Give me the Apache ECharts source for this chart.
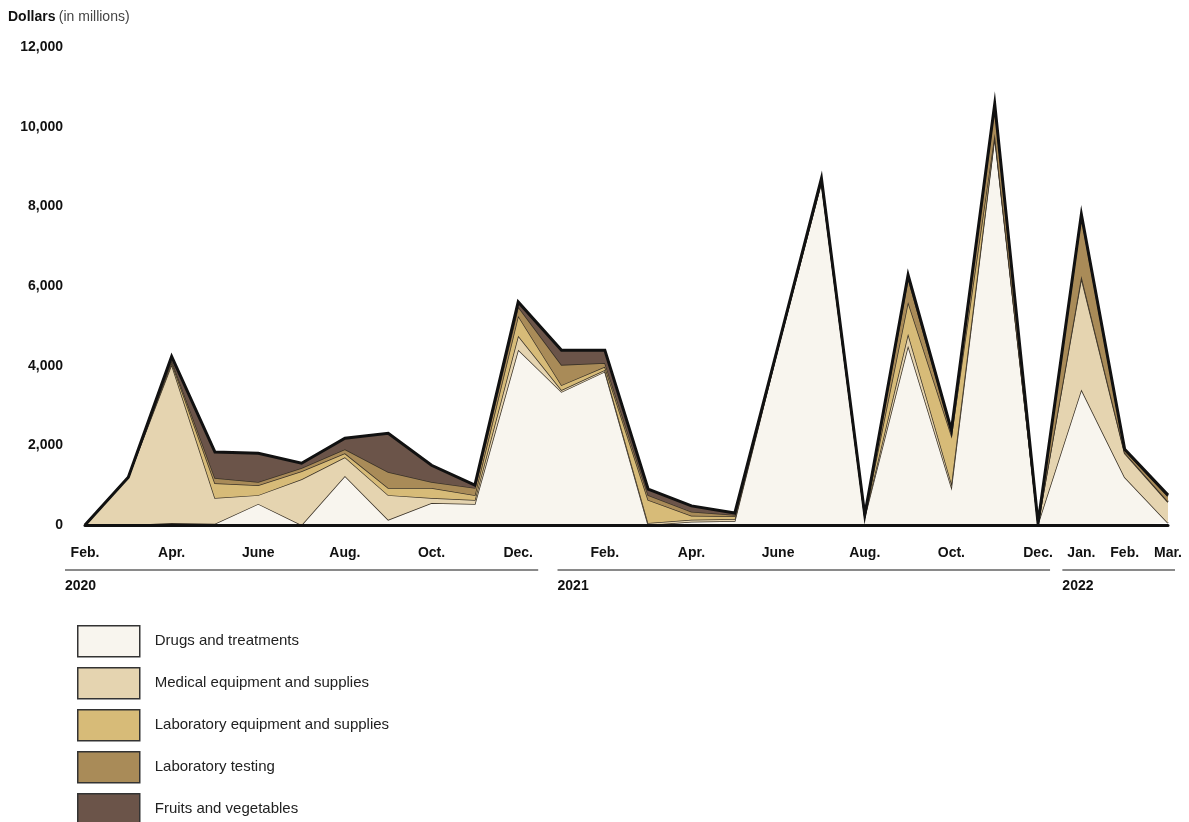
<!DOCTYPE html>
<html>
<head>
<meta charset="utf-8">
<title>Dollars (in millions)</title>
<script src="https://cdn.jsdelivr.net/npm/echarts@6/dist/echarts.min.js"></script>
<style>
    html, body { margin: 0; padding: 0; background: #ffffff; }
    #chart { width: 1189px; height: 822px; }
</style>
</head>
<body>
<div id="chart"></div>
<script>
// 月份（2020年2月 - 2022年3月）
const categories = [
    '2020-02', '2020-03', '2020-04', '2020-05', '2020-06', '2020-07', '2020-08', '2020-09',
    '2020-10', '2020-11', '2020-12', '2021-01', '2021-02', '2021-03', '2021-04', '2021-05',
    '2021-06', '2021-07', '2021-08', '2021-09', '2021-10', '2021-11', '2021-12', '2022-01',
    '2022-02', '2022-03'
];
const monthLabels = [
    'Feb.', 'Mar.', 'Apr.', 'May', 'June', 'July', 'Aug.', 'Sept.', 'Oct.', 'Nov.', 'Dec.', 'Jan.',
    'Feb.', 'Mar.', 'Apr.', 'May', 'June', 'July', 'Aug.', 'Sept.', 'Oct.', 'Nov.', 'Dec.', 'Jan.',
    'Feb.', 'Mar.'
];

// 年份分组
const years = ['2020', '2021', '2022'];
const yearFirstMonth = [0, 11, 23];
const yearLastMonth = [10, 22, 25];

// 各类别（百万美元）
const seriesNames = [
    'Drugs and treatments',
    'Medical equipment and supplies',
    'Laboratory equipment and supplies',
    'Laboratory testing',
    'Fruits and vegetables'
];
const drugs = [0, 0, 50, 30, 530, 0, 1230, 130, 550, 530, 4400, 3340, 3850, 0, 80, 100,
    4450, 8600, 200, 4500, 950, 9750, 30, 3400, 1200, 50];
const medical = [0, 1200, 3980, 650, 220, 1150, 470, 620, 130, 100, 350, 50, 40, 50, 50, 50,
    10, 30, 20, 300, 100, 40, 10, 2800, 600, 520];
const labEquipment = [0, 0, 50, 370, 250, 200, 100, 180, 250, 120, 500, 120, 80, 580, 100, 70,
    10, 20, 10, 800, 1200, 30, 5, 50, 20, 20];
const labTesting = [0, 0, 50, 130, 80, 80, 100, 400, 150, 180, 230, 510, 100, 120, 100, 30,
    10, 30, 10, 600, 100, 700, 5, 1500, 60, 130];
const fruits = [0, 0, 100, 650, 720, 120, 280, 970, 420, 70, 120, 370, 320, 150, 150, 50,
    10, 20, 10, 80, 30, 50, 0, 50, 20, 30];

const seriesValues = [drugs, medical, labEquipment, labTesting, fruits];
const seriesColors = ['#f8f5ee', '#e5d4b0', '#d7bb78', '#a98b58', '#6b5449'];

const fontFamily = '"Liberation Sans", Arial, Helvetica, sans-serif';

// 年份分隔线的左右留白（像素）
const yearPadLeft = [20, 4, 19];
const yearPadRight = [20, 12, 7];

const chart = echarts.init(document.getElementById('chart'));

// 堆叠面积系列
const series = seriesNames.map((name, i) => {
    const isTop = i === seriesNames.length - 1;
    return {
        name: name,
        type: 'line',
        stack: 'total',
        data: seriesValues[i],
        color: seriesColors[i],
        symbol: 'none',
        smooth: false,
        lineStyle: {
            color: isTop ? '#111111' : '#3b3328',
            width: isTop ? 3 : 1.5,
            join: 'miter'
        },
        areaStyle: {
            color: seriesColors[i],
            opacity: 1
        },
        emphasis: { disabled: true },
        z: 2 + i
    };
});

const option = {
    animation: false,
    backgroundColor: '#ffffff',
    textStyle: { fontFamily: fontFamily },
    grid: {
        left: 85,
        right: 21,
        top: 47,
        bottom: 297
    },
    xAxis: {
        type: 'category',
        data: categories,
        boundaryGap: false,
        axisLine: {
            show: true,
            lineStyle: { color: '#111111', width: 3 }
        },
        axisTick: { show: false },
        splitLine: { show: false },
        axisLabel: {
            interval: 0,
            margin: 21,
            color: '#111111',
            fontSize: 14,
            fontWeight: 'bold',
            fontFamily: fontFamily,
            formatter: function (value, index) {
                // 每两个月显示一次，2021年12月以后每月显示
                if (index % 2 === 0 || index >= 22) return monthLabels[index];
                return '';
            }
        },
        z: 10
    },
    yAxis: {
        type: 'value',
        min: 0,
        max: 12000,
        interval: 2000,
        axisLine: { show: false },
        axisTick: { show: false },
        splitLine: { show: false },
        axisLabel: {
            margin: 22,
            color: '#111111',
            fontSize: 14,
            fontWeight: 'bold',
            fontFamily: fontFamily
        }
    },
    legend: {
        orient: 'vertical',
        left: 72,
        top: 620,
        height: 260,
        itemWidth: 62,
        itemHeight: 31,
        itemGap: 9.5,
        icon: 'rect',
        selectedMode: false,
        data: seriesNames.map((name, i) => ({
            name: name,
            itemStyle: {
                color: seriesColors[i],
                borderColor: '#333333',
                borderWidth: 1.5
            }
        })),
        textStyle: {
            color: '#222222',
            fontSize: 15,
            fontFamily: fontFamily,
            padding: [0, 0, 0, 10]
        }
    },
    series: series
};

chart.setOption(option);

// 坐标轴标题与年份分组标注
function drawDecorations() {
    const graphics = [{
        type: 'text',
        left: 8,
        top: 10,
        style: {
            text: '{b|Dollars} {n|(in millions)}',
            rich: {
                b: { fontSize: 14, fontWeight: 'bold', fill: '#111111', fontFamily: fontFamily },
                n: { fontSize: 14, fill: '#444444', fontFamily: fontFamily }
            }
        }
    }];

    years.forEach((year, i) => {
        const x0 = chart.convertToPixel({ xAxisIndex: 0 }, yearFirstMonth[i]);
        const x1 = chart.convertToPixel({ xAxisIndex: 0 }, yearLastMonth[i]);
        const start = x0 - yearPadLeft[i];
        const end = x1 + yearPadRight[i];
        graphics.push({
            type: 'line',
            shape: { x1: start, y1: 570, x2: end, y2: 570 },
            style: { stroke: '#8a8a8a', lineWidth: 2 }
        });
        graphics.push({
            type: 'text',
            x: start,
            y: 579,
            style: {
                text: year,
                fill: '#111111',
                fontSize: 14,
                fontWeight: 'bold',
                fontFamily: fontFamily
            }
        });
    });

    chart.setOption({ graphic: graphics });
}

drawDecorations();

window.addEventListener('resize', () => {
    chart.resize();
    drawDecorations();
});
</script>
</body>
</html>
